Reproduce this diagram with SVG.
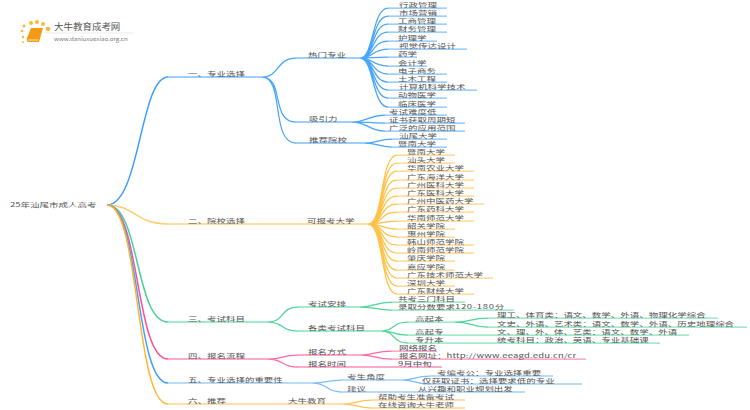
<svg xmlns="http://www.w3.org/2000/svg" width="750" height="410" viewBox="0 0 750 410">
<style>
text{font-family:"Noto Sans CJK SC","Liberation Sans",sans-serif;font-size:9.5px;fill:#555}
#connectors path{fill:none;stroke-width:1.250}
#connectors .l{stroke-width:1.400}
#connectors .r{stroke-width:1.500}
.a{stroke:#4aa5fc}.al{stroke:#7fbffb}
.b{stroke:#ffc24a}.bl{stroke:#ffd27e}
.c{stroke:#4fd699}.cl{stroke:#84e3b9}
.d{stroke:#ff6aa4}.dl{stroke:#ff8fbb}
.e{stroke:#7dbcf9}.el{stroke:#a3d1fb}
.f{stroke:#ffc45a}.fl{stroke:#ffd58a}
</style>
<rect width="750" height="410" fill="#fff"/>
<g id="connectors">
<path class="a r" style="stroke:#3f9dff" d="M107 205C140 205 140 77 168 77"/>
<path class="b r" style="stroke:#ffcd6e" d="M107 205C135 205 135 224 168 224"/>
<path class="c r" style="stroke:#45d295" d="M107 205C140 205 135 322 168 322"/>
<path class="d r" style="stroke:#ff4f96" d="M107 205C140 205 135 359 168 359"/>
<path class="a r" style="stroke:#3f9fff" d="M107 205C140 205 135 383 168 383"/>
<path class="b r" style="stroke:#ffb52e" d="M107 205C140 205 135 404 168 404"/>
<path class="al l" d="M168 77H262M296 58H360M296 122H352M296 143H365"/>
<path class="a" d="M262 77C280 77 276 58 296 58M262 77C285 77 270 122 296 122M262 77C285 77 270 143 296 143"/>
<path class="a" d="M360 58C374 58 372 8 388 8M360 58C374 58 372 16 388 16M360 58C374 58 372 24 388 24M360 58C374 58 372 32 388 32M360 58C374 58 372 41 388 41M360 58C374 58 372 49 388 49M360 58C374 58 372 57 388 57M360 58C374 58 372 66 388 66M360 58C374 58 372 74 388 74M360 58C374 58 372 82 388 82M360 58C374 58 372 90 388 90M360 58C374 58 372 98 388 98M360 58C374 58 372 107 388 107"/>
<path class="al" d="M388 8H447M388 16H447M388 24H447M388 32H447M388 41H437M388 49H467M388 57H417M388 66H427M388 74H447M388 82H447M388 90H477M388 98H447M388 107H447"/>
<path class="a" d="M352 122C368 122 368 115 385 115M352 122C368 122 368 123 385 123M352 122C368 122 368 131 385 131M365 143C378 143 378 139 392 139M365 143C378 143 378 147 392 147"/>
<path class="al" d="M385 115H447M385 123H465M385 131H465M392 139H447M392 147H447"/>
<path class="bl l" d="M168 224H368"/>
<path class="b" d="M368 224C384 224 380 155 397 155M368 224C384 224 380 163 397 163M368 224C384 224 380 171 397 171M368 224C384 224 380 180 397 180M368 224C384 224 380 188 397 188M368 224C384 224 380 196 397 196M368 224C384 224 380 204 397 204M368 224C384 224 380 212 397 212M368 224C384 224 380 221 397 221M368 224C384 224 380 229 397 229M368 224C384 224 380 237 397 237M368 224C384 224 380 245 397 245M368 224C384 224 380 253 397 253M368 224C384 224 380 261 397 261M368 224C384 224 380 270 397 270M368 224C384 224 380 278 397 278M368 224C384 224 380 286 397 286M368 224C384 224 380 294 397 294"/>
<path class="bl" d="M397 155H455M397 163H455M397 171H474M397 180H474M397 188H474M397 196H474M397 204H484M397 212H474M397 221H474M397 229H455M397 237H455M397 245H474M397 253H474M397 261H455M397 270H455M397 278H493M397 286H455M397 294H474"/>
<path class="cl l" d="M168 322H268M298 307H360M298 331H382"/>
<path class="c" d="M268 322C285 322 280 307 298 307M268 322C285 322 280 331 298 331M360 307C375 307 375 302 392 302M360 307C375 307 375 310 392 310M382 331C395 331 392 322 408 322M382 331C395 331 392 335 408 335M382 331C395 331 392 343 408 343M455 322C472 322 470 318 488 318M455 322C472 322 470 327 488 327"/>
<path class="cl" d="M392 302H465M392 310H514M408 322H455M408 335H689M408 343H660M488 318H718M488 327H747"/>
<path class="dl l" d="M168 359H268M298 355H362M298 367H442"/>
<path class="d" d="M268 359C285 359 280 355 298 355M268 359C285 359 280 367 298 367M362 355C375 355 375 351 392 351M362 355C375 355 375 359 392 359"/>
<path class="dl" d="M392 351H437M392 359H586"/>
<path class="el l" d="M168 383H313M342 380H403M342 392H525M430 376H553M430 384H582"/>
<path class="e" d="M313 383C328 383 325 380 342 380M313 383C328 383 325 392 342 392M403 380C415 380 415 376 430 376M403 380C415 380 415 384 430 384"/>
<path class="fl l" d="M168 404H343M372 400H465M372 408H465"/>
<path class="f" d="M343 404C358 404 355 400 372 400M343 404C358 404 355 408 372 408"/>
</g>
<g id="logo">
<path d="M45 33H133" stroke="#e6e6e6" stroke-width=".8"/>
<g fill="#fbb83a"><circle cx="23" cy="37" r="1.200"/><circle cx="22" cy="31" r="1.300"/><circle cx="24" cy="26" r="1.500"/><circle cx="31" cy="23" r="2"/><circle cx="37" cy="22" r="2"/><circle cx="43" cy="24" r="2"/><circle cx="48" cy="29" r="2.300"/><circle cx="23" cy="42" r="1"/></g>
<path d="M31 28H43L39 42H29Q26 42 27 38Z" fill="#f59a16"/>
<path d="M28 40H38" stroke="#fcd9a0" stroke-width="1.200"/>
<text transform="matrix(1 0 0 .9 54 30)">大牛教育成考网</text>
<text transform="matrix(1 0 0 .9 54 41)" style="font-size:6.100px;fill:#777">www.daniuxuexiao.org.cn</text>
</g>
<g id="root"><text transform="matrix(1 0 0 .62 10 207)">25年汕尾市成人高考</text></g>
<g id="n1"><text transform="matrix(1 0 0 .62 188 75.500)">一、专业选择</text></g>
<g id="n2"><text transform="matrix(1 0 0 .62 188 222.500)">二、院校选择</text></g>
<g id="n3"><text transform="matrix(1 0 0 .62 188 320.500)">三、考试科目</text></g>
<g id="n4"><text transform="matrix(1 0 0 .62 188 357.500)">四、报名流程</text></g>
<g id="n5"><text transform="matrix(1 0 0 .62 188 381.500)">五、专业选择的重要性</text></g>
<g id="n6"><text transform="matrix(1 0 0 .62 188 402.500)">六、推荐</text></g>
<g id="n1-1"><text transform="matrix(1 0 0 .62 308 56.500)">热门专业</text></g>
<g id="n1-2"><text transform="matrix(1 0 0 .62 309 120.500)">吸引力</text></g>
<g id="n1-3"><text transform="matrix(1 0 0 .62 309 141.500)">推荐院校</text></g>
<g id="m01"><text transform="matrix(1 0 0 .62 399 6.500)">行政管理</text></g>
<g id="m02"><text transform="matrix(1 0 0 .62 399 14.500)">市场营销</text></g>
<g id="m03"><text transform="matrix(1 0 0 .62 398 22.500)">工商管理</text></g>
<g id="m04"><text transform="matrix(1 0 0 .62 398 30.500)">财务管理</text></g>
<g id="m05"><text transform="matrix(1 0 0 .62 398 39.500)">护理学</text></g>
<g id="m06"><text transform="matrix(1 0 0 .62 399 47.500)">视觉传达设计</text></g>
<g id="m07"><text transform="matrix(1 0 0 .62 398 55.500)">药学</text></g>
<g id="m08"><text transform="matrix(1 0 0 .62 398 64.500)">会计学</text></g>
<g id="m09"><text transform="matrix(1 0 0 .62 398 72.500)">电子商务</text></g>
<g id="m10"><text transform="matrix(1 0 0 .62 398 80.500)">土木工程</text></g>
<g id="m11"><text transform="matrix(1 0 0 .62 399 88.500)">计算机科学技术</text></g>
<g id="m12"><text transform="matrix(1 0 0 .62 398 96.500)">动物医学</text></g>
<g id="m13"><text transform="matrix(1 0 0 .62 398 105.500)">临床医学</text></g>
<g id="p1"><text transform="matrix(1 0 0 .62 389 113.500)">考试难度低</text></g>
<g id="p2"><text transform="matrix(1 0 0 .62 389 121.500)">证书获取周期短</text></g>
<g id="p3"><text transform="matrix(1 0 0 .62 389 129.500)">广泛的应用范围</text></g>
<g id="r1"><text transform="matrix(1 0 0 .62 399 137.500)">汕尾大学</text></g>
<g id="r2"><text transform="matrix(1 0 0 .62 398 145.500)">暨南大学</text></g>
<g id="n2-1"><text transform="matrix(1 0 0 .62 307 223)">可报考大学</text></g>
<g id="u01"><text transform="matrix(1 0 0 .62 407 153.500)">暨南大学</text></g>
<g id="u02"><text transform="matrix(1 0 0 .62 407 161.500)">汕头大学</text></g>
<g id="u03"><text transform="matrix(1 0 0 .62 407 169.500)">华南农业大学</text></g>
<g id="u04"><text transform="matrix(1 0 0 .62 407 178.500)">广东海洋大学</text></g>
<g id="u05"><text transform="matrix(1 0 0 .62 407 186.500)">广州医科大学</text></g>
<g id="u06"><text transform="matrix(1 0 0 .62 407 194.500)">广东医科大学</text></g>
<g id="u07"><text transform="matrix(1 0 0 .62 407 202.500)">广州中医药大学</text></g>
<g id="u08"><text transform="matrix(1 0 0 .62 407 210.500)">广东药科大学</text></g>
<g id="u09"><text transform="matrix(1 0 0 .62 407 219.500)">华南师范大学</text></g>
<g id="u10"><text transform="matrix(1 0 0 .62 407 227.500)">韶关学院</text></g>
<g id="u11"><text transform="matrix(1 0 0 .62 407 235.500)">惠州学院</text></g>
<g id="u12"><text transform="matrix(1 0 0 .62 407 243.500)">韩山师范学院</text></g>
<g id="u13"><text transform="matrix(1 0 0 .62 407 251.500)">岭南师范学院</text></g>
<g id="u14"><text transform="matrix(1 0 0 .62 407 259.500)">肇庆学院</text></g>
<g id="u15"><text transform="matrix(1 0 0 .62 407 268.500)">嘉应学院</text></g>
<g id="u16"><text transform="matrix(1 0 0 .62 407 276.500)">广东技术师范大学</text></g>
<g id="u17"><text transform="matrix(1 0 0 .62 407 284.500)">深圳大学</text></g>
<g id="u18"><text transform="matrix(1 0 0 .62 407 292.500)">广东财经大学</text></g>
<g id="n3-1"><text transform="matrix(1 0 0 .62 308 305.500)">考试安排</text></g>
<g id="n3-2"><text transform="matrix(1 0 0 .62 308 329.500)">各类考试科目</text></g>
<g id="x1"><text transform="matrix(1 0 0 .62 398 300.500)">共考三门科目</text></g>
<g id="x2"><text transform="matrix(1 0 0 .62 398 308.500)">录取分数要求<tspan letter-spacing=".7">120-180</tspan>分</text></g>
<g id="y1"><text transform="matrix(1 0 0 .62 415 320.500)">高起本</text></g>
<g id="y2"><text transform="matrix(1 0 0 .62 415 333.500)">高起专</text></g>
<g id="y3"><text transform="matrix(1 0 0 .62 415 341.500)">专升本</text></g>
<g id="z1"><text transform="matrix(1 0 0 .62 497 316.500)">理工、体育类：语文、数学、外语、物理化学综合</text></g>
<g id="z2"><text transform="matrix(1 0 0 .62 497 325.500)">文史、外语、艺术类：语文、数学、外语、历史地理综合</text></g>
<g id="z3"><text transform="matrix(1 0 0 .62 497 333.500)">文、理、外、体、艺类：语文、数学、外语</text></g>
<g id="z4"><text transform="matrix(1 0 0 .62 497 341.500)">统考科目：政治、英语、专业基础课</text></g>
<g id="n4-1"><text transform="matrix(1 0 0 .62 308 353.500)">报名方式</text></g>
<g id="n4-2"><text transform="matrix(1 0 0 .62 308 365.500)">报名时间</text></g>
<g id="w1"><text transform="matrix(1 0 0 .62 399 349.500)">网络报名</text></g>
<g id="w2"><text transform="matrix(1 0 0 .62 399 357.500)">报名网址：<tspan letter-spacing=".2">http://www.eeagd.edu.cn/cr</tspan></text></g>
<g id="w3"><text transform="matrix(1 0 0 .62 398 365.500)">9月中旬</text></g>
<g id="n5-1"><text transform="matrix(1 0 0 .62 347 378.500)">考生角度</text></g>
<g id="n5-2"><text transform="matrix(1 0 0 .62 347 390.500)">建议</text></g>
<g id="v1"><text transform="matrix(1 0 0 .62 437 374.500)">考编考公：专业选择重要</text></g>
<g id="v2"><text transform="matrix(1 0 0 .62 422 382.500)">仅获取证书：选择要求低的专业</text></g>
<g id="v3"><text transform="matrix(1 0 0 .62 418 390.500)">从兴趣和职业规划出发</text></g>
<g id="n6-1"><text transform="matrix(1 0 0 .62 288 402.500)">大牛教育</text></g>
<g id="t1"><text transform="matrix(1 0 0 .62 378 398.500)">帮助考生准备考试</text></g>
<g id="t2"><text transform="matrix(1 0 0 .62 378 406.500)">在线咨询大牛老师</text></g>
</svg>
